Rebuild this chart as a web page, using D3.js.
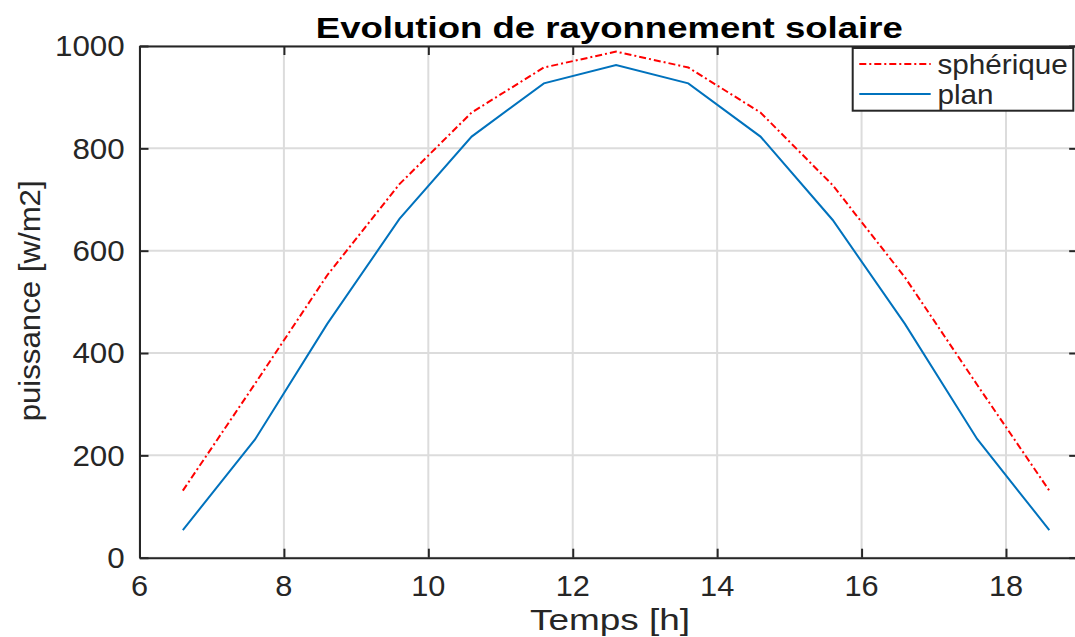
<!DOCTYPE html>
<html>
<head>
<meta charset="utf-8">
<script src="https://cdn.jsdelivr.net/npm/d3@7"></script>
<style>
    body { margin: 0; background: #fff; }
    text { font-family: "Liberation Sans", Arial, Helvetica, sans-serif; fill: #262626; }
</style>
</head>
<body>
<svg id="chart"></svg>
<script>
// Data
let heures = [6.6, 7.6, 8.6, 9.6, 10.6, 11.6, 12.6, 13.6, 14.6, 15.6, 16.6, 17.6, 18.6]
let spherique = [131, 340, 552, 730, 870, 958, 989, 958, 870, 728, 548, 338, 131]
let plan = [54, 231, 457, 662, 823, 927, 963, 927, 823, 660, 457, 232, 54]
let xTicks = [6, 8, 10, 12, 14, 16, 18]
let yTicks = [0, 200, 400, 600, 800, 1000]
let seriesNames = ["sphérique", "plan"]

let titre = "Evolution de rayonnement solaire"
let xLabel = "Temps [h]"
let yLabel = "puissance [w/m2]"

let axisColor = "#262626"
let gridColor = "#dcdcdc"
let colors = ["#ff0000", "#0072bd"]

drawChart("#chart", 1075, 637)

function drawChart(svgID, w, h) {
    let svg = d3.select(svgID).attr("width", w).attr("height", h)

    // axes limits: x from 6 to 19 (right edge is cut off), y from 0 to 1000
    let x = d3.scaleLinear().domain([6, 19]).range([139.5, 1078.2])
    let y = d3.scaleLinear().domain([0, 1000]).range([557.7, 46])

    // grid
    svg.append("g").selectAll("line").data(xTicks).join("line")
        .attr("x1", d => x(d)).attr("x2", d => x(d))
        .attr("y1", y(0)).attr("y2", y(1000))
        .attr("stroke", gridColor).attr("stroke-width", 2)
    svg.append("g").selectAll("line").data(yTicks).join("line")
        .attr("x1", x(6)).attr("x2", x(19))
        .attr("y1", d => y(d)).attr("y2", d => y(d))
        .attr("stroke", gridColor).attr("stroke-width", 2)

    // lines
    let series = [spherique, plan]
    let line = d3.line().x((d, i) => x(heures[i])).y(d => y(d))
    series.forEach(function (vals, i) {
        svg.append("path")
            .datum(vals)
            .attr("fill", "none")
            .attr("stroke", colors[i])
            .attr("stroke-width", 2)
            .attr("stroke-dasharray", i == 0 ? "7,3,2,3" : null)
            .attr("d", line)
    })

    // axes (box on, ticks pointing inside)
    let tick = 9
    let xAxis = d3.axisBottom(x).tickValues(xTicks).tickSize(-tick).tickSizeOuter(0).tickFormat("")
    let xTop = d3.axisTop(x).tickValues(xTicks).tickSize(-tick).tickSizeOuter(0).tickFormat("")
    let yAxis = d3.axisLeft(y).tickValues(yTicks).tickSize(-tick).tickSizeOuter(0).tickFormat("")
    let yRight = d3.axisRight(y).tickValues(yTicks).tickSize(-tick).tickSizeOuter(0).tickFormat("")

    svg.append("g").attr("transform", "translate(0," + y(0) + ")").call(xAxis)
    svg.append("g").attr("transform", "translate(0," + y(1000) + ")").call(xTop)
    svg.append("g").attr("transform", "translate(" + x(6) + ",0)").call(yAxis)
    svg.append("g").attr("transform", "translate(" + x(19) + ",0)").call(yRight)
    svg.selectAll(".domain, .tick line")
        .attr("stroke", axisColor).attr("stroke-width", 2)
    svg.selectAll("g.tick text").remove()

    // tick labels
    svg.append("g").selectAll("text").data(xTicks).join("text")
        .attr("x", d => x(d)).attr("y", 595.5)
        .attr("text-anchor", "middle")
        .style("font-size", "29px")
        .text(d => d)
        .call(stretch, 1.06)
    svg.append("g").selectAll("text").data(yTicks).join("text")
        .attr("x", 124.7).attr("y", d => y(d)).attr("dy", "0.36em")
        .attr("text-anchor", "end")
        .style("font-size", "29px")
        .text(d => d)
        .call(stretch, 1.08)

    // title and axis labels
    svg.append("text")
        .attr("x", 609.3).attr("y", 38.3)
        .attr("text-anchor", "middle")
        .style("font-size", "30px").style("font-weight", "bold").style("fill", "#000")
        .text(titre)
        .attr("textLength", 587).attr("lengthAdjust", "spacingAndGlyphs")
    svg.append("text")
        .attr("x", 610).attr("y", 630)
        .attr("text-anchor", "middle")
        .style("font-size", "30px")
        .text(xLabel)
        .attr("textLength", 160).attr("lengthAdjust", "spacingAndGlyphs")
    svg.append("text")
        .attr("transform", "translate(40," + (y(500) - 1) + ") rotate(-90)")
        .attr("text-anchor", "middle")
        .style("font-size", "30px")
        .text(yLabel)
        .attr("textLength", 241).attr("lengthAdjust", "spacingAndGlyphs")

    // legend
    let lg = svg.append("g")
    lg.append("rect")
        .attr("x", 852.7).attr("y", 48).attr("width", 220.6).attr("height", 62.7)
        .attr("fill", "#fff").attr("stroke", axisColor).attr("stroke-width", 2)
    let rowY = [64, 94]
    seriesNames.forEach(function (name, i) {
        lg.append("line")
            .attr("x1", 859.3).attr("x2", 930.7)
            .attr("y1", rowY[i]).attr("y2", rowY[i])
            .attr("stroke", colors[i]).attr("stroke-width", 2)
            .attr("stroke-dasharray", i == 0 ? "7,3,2,3" : null)
        lg.append("text")
            .attr("x", 937.5).attr("y", rowY[i]).attr("dy", "0.36em")
            .style("font-size", "28px")
            .text(name)
            .call(stretch, 1.06)
    })
}

// the reference text looks wider than the font; widen it a bit
function stretch(sel, k) {
    sel.each(function () {
        let w = this.getComputedTextLength()
        d3.select(this).attr("textLength", w * k).attr("lengthAdjust", "spacingAndGlyphs")
    })
}
</script>
</body>
</html>
